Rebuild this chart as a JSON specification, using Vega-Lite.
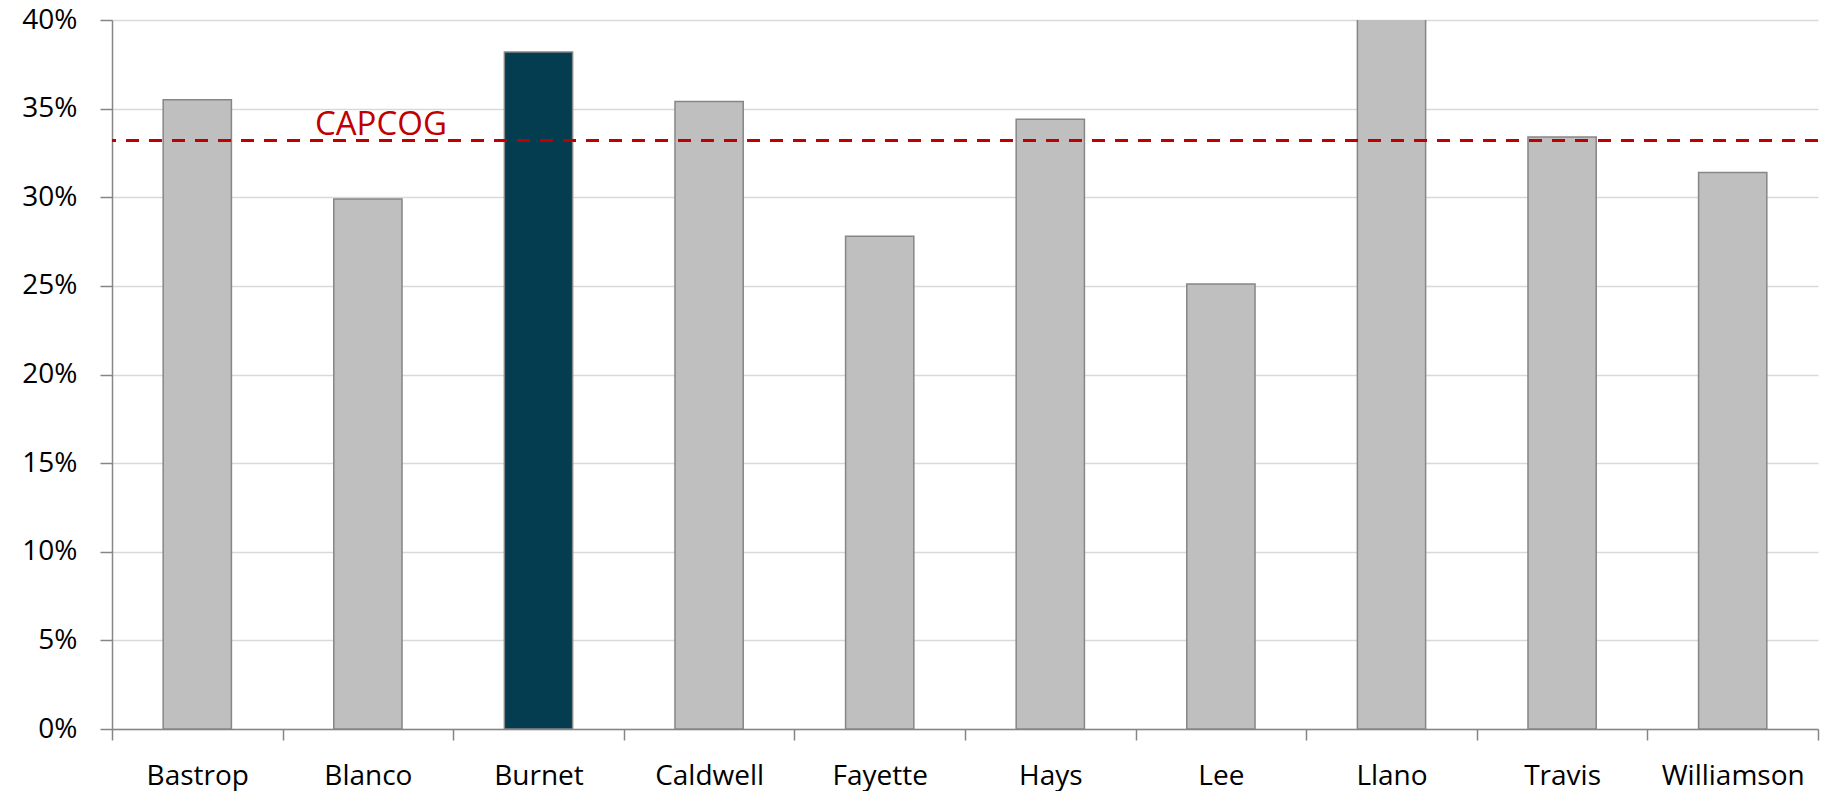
{
  "$schema": "https://vega.github.io/schema/vega-lite/v6.json",
  "width": 1706,
  "height": 709,
  "autosize": {"type": "none"},
  "padding": {"left": 112, "top": 20, "right": 6, "bottom": 62},
  "background": "white",
  "config": {
    "view": {"stroke": null},
    "font": "Open Sans"
  },
  "datasets": {
    "counties": [
      {"county": "Bastrop", "share": 0.355},
      {"county": "Blanco", "share": 0.299},
      {"county": "Burnet", "share": 0.382},
      {"county": "Caldwell", "share": 0.354},
      {"county": "Fayette", "share": 0.278},
      {"county": "Hays", "share": 0.344},
      {"county": "Lee", "share": 0.251},
      {"county": "Llano", "share": 0.42},
      {"county": "Travis", "share": 0.334},
      {"county": "Williamson", "share": 0.314}
    ],
    "region": [
      {"county": "Blanco", "share": 0.332, "label": "CAPCOG"}
    ]
  },
  "layer": [
    {
      "data": {"name": "counties"},
      "mark": {"type": "bar", "stroke": "#868686", "strokeWidth": 1.5, "clip": true, "width": {"band": 0.4}},
      "encoding": {
        "x": {
          "field": "county",
          "type": "nominal",
          "sort": null,
          "scale": {"paddingInner": 0, "paddingOuter": 0},
          "axis": {
            "title": null,
            "labelAngle": 0,
            "labelFont": "Open Sans",
            "labelFontSize": 28,
            "labelColor": "#000000",
            "labelPadding": 22,
            "tickBand": "extent",
            "tickSize": 11,
            "tickColor": "#868686",
            "tickWidth": 1.5,
            "domainColor": "#868686",
            "domainWidth": 1.5,
            "grid": false
          }
        },
        "y": {
          "field": "share",
          "type": "quantitative",
          "scale": {"domain": [0, 0.4], "nice": false},
          "axis": {
            "title": null,
            "format": ".0%",
            "values": [0, 0.05, 0.1, 0.15, 0.2, 0.25, 0.3, 0.35, 0.4],
            "labelFont": "Open Sans",
            "labelFontSize": 28,
            "labelColor": "#000000",
            "labelPadding": 23,
            "tickSize": 12,
            "tickColor": "#868686",
            "tickWidth": 1.5,
            "domainColor": "#868686",
            "domainWidth": 1.5,
            "grid": true,
            "gridColor": "#d9d9d9",
            "gridWidth": 1.5
          }
        },
        "color": {
          "condition": {"test": "datum.county === 'Burnet'", "value": "#053d50"},
          "value": "#bfbfbf"
        }
      }
    },
    {
      "data": {"name": "region"},
      "mark": {"type": "rule", "color": "#c00000", "strokeWidth": 3, "strokeDash": [13, 10]},
      "encoding": {
        "y": {"field": "share", "type": "quantitative"}
      }
    },
    {
      "data": {"name": "region"},
      "mark": {"type": "text", "color": "#c00000", "fontSize": 33, "font": "Open Sans", "align": "center", "baseline": "alphabetic", "dx": 13, "dy": -6},
      "encoding": {
        "x": {"field": "county", "type": "nominal", "sort": null},
        "y": {"field": "share", "type": "quantitative"},
        "text": {"field": "label"}
      }
    }
  ]
}
